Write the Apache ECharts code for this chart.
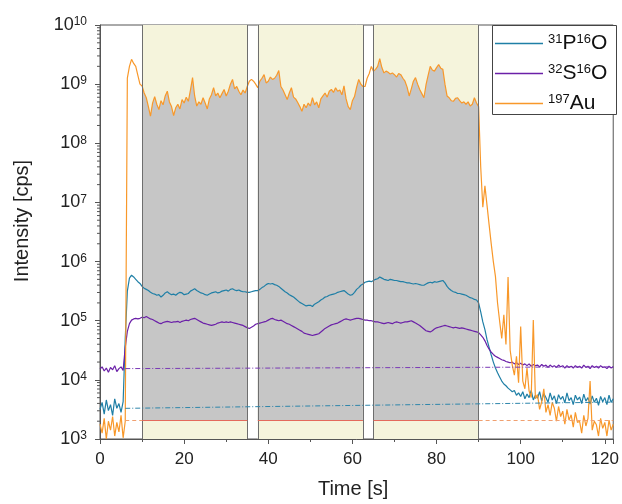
<!DOCTYPE html>
<html><head><meta charset="utf-8">
<script src="https://cdn.jsdelivr.net/npm/echarts@6/dist/echarts.min.js"></script>
<style>html,body{margin:0;padding:0;background:#fff}#c{width:622px;height:504px}</style>
</head><body><div id="c"></div>
<script>
// sample times [s]
const time = [
0,0.5,1,1.5,2,2.5,3,3.5,4,4.5,
5,5.5,6,6.5,7,7.5,8,8.5,9,9.5,
10,10.5,11,11.5,12,12.5,13,13.5,14,14.5,
15,15.5,16,16.5,17,17.5,18,18.5,19,19.5,
20,20.5,21,21.5,22,22.5,23,23.5,24,24.5,
25,25.5,26,26.5,27,27.5,28,28.5,29,29.5,
30,30.5,31,31.5,32,32.5,33,33.5,34,34.5,
35,35.5,36,36.5,37,37.5,38,38.5,39,39.5,
40,40.5,41,41.5,42,42.5,43,43.5,44,44.5,
45,45.5,46,46.5,47,47.5,48,48.5,49,49.5,
50,50.5,51,51.5,52,52.5,53,53.5,54,54.5,
55,55.5,56,56.5,57,57.5,58,58.5,59,59.5,
60,60.5,61,61.5,62,62.5,63,63.5,64,64.5,
65,65.5,66,66.5,67,67.5,68,68.5,69,69.5,
70,70.5,71,71.5,72,72.5,73,73.5,74,74.5,
75,75.5,76,76.5,77,77.5,78,78.5,79,79.5,
80,80.5,81,81.5,82,82.5,83,83.5,84,84.5,
85,85.5,86,86.5,87,87.5,88,88.5,89,89.5,
90,90.5,91,91.5,92,92.5,93,93.5,94,94.5,
95,95.5,96,96.5,97,97.5,98,98.5,99,99.5,
100,100.5,101,101.5,102,102.5,103,103.5,104,104.5,
105,105.5,106,106.5,107,107.5,108,108.5,109,109.5,
110,110.5,111,111.5,112,112.5,113,113.5,114,114.5,
115,115.5,116,116.5,117,117.5,118,118.5,119,119.5,
120,120.5,121,121.5,122];

// intensities as log10(cps)
const pLog = [
3.50,3.62,3.42,3.66,3.48,3.58,3.40,3.68,3.52,3.60,
3.45,3.63,4.70,5.50,5.72,5.77,5.74,5.70,5.66,5.63,
5.58,5.55,5.53,5.51,5.48,5.46,5.45,5.43,5.44,5.40,
5.43,5.47,5.49,5.46,5.44,5.45,5.43,5.46,5.48,5.47,
5.44,5.45,5.46,5.50,5.52,5.54,5.51,5.49,5.47,5.46,
5.44,5.43,5.45,5.47,5.48,5.49,5.47,5.48,5.50,5.51,
5.52,5.50,5.53,5.54,5.52,5.51,5.52,5.50,5.49,5.49,
5.48,5.48,5.49,5.50,5.51,5.51,5.53,5.56,5.58,5.61,
5.63,5.62,5.63,5.61,5.60,5.58,5.55,5.52,5.49,5.47,
5.44,5.42,5.40,5.37,5.34,5.31,5.29,5.27,5.25,5.26,
5.26,5.24,5.28,5.30,5.32,5.35,5.37,5.40,5.41,5.43,
5.44,5.45,5.46,5.48,5.49,5.50,5.51,5.48,5.45,5.43,
5.44,5.48,5.53,5.56,5.60,5.62,5.65,5.66,5.67,5.66,
5.68,5.70,5.71,5.74,5.72,5.70,5.69,5.68,5.70,5.69,
5.68,5.68,5.67,5.66,5.66,5.65,5.64,5.64,5.63,5.62,
5.63,5.62,5.61,5.60,5.60,5.62,5.64,5.65,5.64,5.66,
5.65,5.66,5.67,5.68,5.64,5.58,5.54,5.51,5.49,5.48,
5.46,5.46,5.45,5.44,5.43,5.41,5.39,5.38,5.36,5.35,
5.30,5.15,4.98,4.85,4.68,4.55,4.42,4.30,4.20,4.12,
4.05,3.98,3.93,3.90,3.86,3.83,3.80,3.82,3.74,3.78,
3.72,3.80,3.68,3.76,3.70,3.82,3.66,3.74,3.69,3.80,
3.64,3.77,3.70,3.62,3.78,3.66,3.73,3.60,3.75,3.67,
3.72,3.61,3.78,3.65,3.70,3.58,3.74,3.66,3.71,3.60,
3.76,3.64,3.70,3.59,3.73,3.62,3.69,3.57,3.72,3.63,
3.70,3.58,3.74,3.62,3.68];

const sLog = [
4.18,4.22,4.15,4.20,4.13,4.21,4.17,4.24,4.14,4.19,
4.22,4.16,4.55,4.82,4.95,5.01,5.03,5.04,5.03,5.04,
5.06,5.05,5.07,5.05,5.03,5.02,5.00,4.98,4.96,4.95,
4.97,4.98,4.99,4.98,4.97,4.98,4.98,4.99,4.97,4.99,
5.00,5.01,5.00,5.02,5.03,5.04,5.02,5.00,4.98,4.96,
4.95,4.94,4.93,4.92,4.93,4.94,4.96,4.97,4.98,4.97,
4.98,4.97,4.98,4.97,4.96,4.95,4.94,4.93,4.92,4.90,
4.88,4.87,4.89,4.91,4.94,4.95,4.96,4.97,4.98,4.99,
5.01,5.03,5.04,5.02,5.01,5.00,5.01,4.99,4.97,4.95,
4.94,4.92,4.90,4.88,4.86,4.84,4.82,4.79,4.78,4.77,
4.76,4.75,4.76,4.77,4.78,4.81,4.84,4.87,4.89,4.91,
4.93,4.94,4.95,4.96,4.98,5.00,5.02,5.03,5.02,5.01,
5.02,5.03,5.04,5.04,5.03,5.02,5.01,5.01,5.00,5.00,
4.99,4.98,4.98,4.97,4.96,4.95,4.96,4.97,4.96,4.95,
4.97,4.98,4.97,4.96,4.97,4.98,4.98,4.99,5.00,4.98,
4.96,4.94,4.92,4.89,4.86,4.83,4.82,4.81,4.83,4.86,
4.88,4.89,4.90,4.91,4.92,4.91,4.90,4.89,4.88,4.89,
4.88,4.87,4.88,4.87,4.86,4.85,4.84,4.83,4.82,4.81,
4.80,4.76,4.72,4.66,4.58,4.52,4.47,4.43,4.40,4.38,
4.36,4.34,4.33,4.31,4.30,4.29,4.30,4.27,4.29,4.26,
4.28,4.25,4.27,4.24,4.27,4.23,4.26,4.24,4.25,4.22,
4.26,4.23,4.25,4.21,4.25,4.22,4.24,4.21,4.25,4.22,
4.24,4.20,4.24,4.21,4.23,4.20,4.24,4.21,4.23,4.20,
4.25,4.21,4.23,4.19,4.24,4.21,4.23,4.20,4.24,4.21,
4.22,4.19,4.23,4.20,4.22];

const auLog = [
3.25,3.10,3.35,3.00,3.30,3.15,3.38,3.05,3.28,3.12,
3.40,3.02,3.30,9.10,9.30,9.42,9.35,9.30,9.15,9.00,
8.97,8.85,8.77,8.62,8.46,8.68,8.79,8.66,8.57,8.72,
8.65,8.80,8.88,8.70,8.62,8.47,8.60,8.66,8.58,8.74,
8.68,8.78,8.71,8.90,9.11,8.80,8.63,8.70,8.66,8.77,
8.68,8.58,8.75,8.82,8.94,8.80,8.85,8.77,8.84,8.91,
8.80,8.88,9.00,9.08,8.92,8.96,8.88,8.82,8.90,8.85,
8.96,9.05,9.08,9.05,9.00,8.94,9.05,9.10,9.16,9.02,
9.05,9.12,9.08,9.10,9.15,9.23,8.96,8.90,8.82,8.74,
8.85,8.94,8.78,8.75,8.69,8.62,8.54,8.66,8.60,8.68,
8.63,8.77,8.65,8.70,8.60,8.75,8.80,8.85,8.78,8.88,
8.91,8.86,8.94,8.88,8.90,8.82,8.97,8.75,8.62,8.57,
8.72,8.79,8.95,9.08,9.00,8.96,8.96,9.10,9.18,9.30,
9.22,9.25,9.30,9.43,9.28,9.19,9.22,9.20,9.17,9.19,
9.16,9.12,9.18,9.16,9.10,9.05,8.95,8.80,8.92,9.05,
9.11,9.00,8.91,8.84,8.77,8.99,9.15,9.30,9.24,9.22,
9.28,9.33,9.27,9.25,9.00,8.80,8.77,8.72,8.71,8.76,
8.77,8.72,8.68,8.70,8.66,8.70,8.63,8.66,8.77,8.68,
8.62,7.60,6.92,7.28,6.95,6.62,6.30,6.00,5.75,5.30,
4.99,4.70,5.10,4.60,5.74,4.50,4.25,4.08,4.40,3.95,
4.90,3.98,3.85,4.20,3.81,3.70,5.01,3.68,3.75,3.50,
3.63,3.85,3.45,3.58,3.40,3.62,3.52,3.30,3.55,3.38,
3.47,3.25,3.50,3.32,3.41,3.20,3.45,3.28,3.30,3.10,
3.40,3.22,3.35,3.98,3.15,3.30,3.24,3.05,3.35,3.18,
3.28,3.05,3.32,3.15,3.25];

// shaded measurement windows [s] and the level of their lower edge [cps]
const regions = [[10, 35], [37.5, 62.5], [65, 90]];
const regionLevel = 2100;
// background (blank) lines [time, cps]
const pBaseline = [[6, 3300], [122, 4200]];
const sBaseline = [[6, 15500], [122, 16600]];
const auBaselines = [[[6, 2100], [10, 2100]], [[90, 2100], [122, 2100]]];
const yDecades = [3, 4, 5, 6, 7, 8, 9, 10];
const seriesNames = ['PO', 'SO', 'Au'];
const legendLabels = {
  PO: '{s|31}{m|P}{s|16}{m|O}',
  SO: '{s|32}{m|S}{s|16}{m|O}',
  Au: '{s|197}{m|Au}'
};

const colors = { PO: '#1f7fa6', SO: '#6b20a8', Au: '#f8982a' };
const FONT = 'Liberation Sans, Arial, sans-serif';

const toPairs = arr => time.map((t, i) => [t, Math.pow(10, arr[i])]);
const auPairs = toPairs(auLog);

const series = [];
// yellow windows
series.push({
  type: 'line', name: 'windows', data: [], z: 1, silent: true,
  markArea: { silent: true, itemStyle: { color: '#f5f4dc' },
    data: regions.map(r => [{ xAxis: r[0] }, { xAxis: r[1] }]) }
});
// grey fill between the lower edge and the Au signal in each window
regions.forEach((r, k) => {
  series.push({
    type: 'line', name: 'fill' + k, z: 2, silent: true, symbol: 'none',
    data: auPairs.filter(d => d[0] >= r[0] && d[0] <= r[1]),
    lineStyle: { width: 0, opacity: 0 },
    areaStyle: { color: '#c6c6c6', opacity: 1, origin: regionLevel }
  });
});
// edges, lower red lines and baselines
const edgeLines = [];
regions.forEach(r => { edgeLines.push({ xAxis: r[0] }); edgeLines.push({ xAxis: r[1] }); });
const segs = [];
regions.forEach(r => segs.push([{ coord: [r[0], regionLevel], lineStyle: { color: '#e36a5c', width: 1, type: 'solid' } }, { coord: [r[1], regionLevel] }]));
segs.push([{ coord: pBaseline[0], lineStyle: { color: '#2f86ab', width: 1, type: [5, 2, 1, 2] } }, { coord: pBaseline[1] }]);
segs.push([{ coord: sBaseline[0], lineStyle: { color: '#7a3ab5', width: 1, type: [5, 2, 1, 2] } }, { coord: sBaseline[1] }]);
auBaselines.forEach(b => segs.push([{ coord: b[0], lineStyle: { color: '#f0a070', width: 1, type: [4, 3] } }, { coord: b[1] }]));
series.push({
  type: 'line', name: 'lines', data: [], z: 3, silent: true,
  markLine: { silent: true, symbol: ['none', 'none'], animation: false,
    label: { show: false }, emphasis: { disabled: true },
    lineStyle: { color: '#6e6e6e', width: 1, type: 'solid' },
    data: edgeLines.concat(segs) }
});
// signals
[['PO', pLog], ['SO', sLog], ['Au', auLog]].forEach(([n, arr]) => {
  series.push({
    type: 'line', name: n, data: toPairs(arr), symbol: 'none', z: 4,
    color: colors[n], lineStyle: { width: 1.2, color: colors[n] }, animation: false
  });
});
// log minor ticks on the y axis
series.push({
  type: 'custom', name: 'yMinor', silent: true, z: 10, clip: false,
  data: [[0, 1000]],
  renderItem: (params, api) => {
    const children = [];
    yDecades.slice(0, -1).forEach(d => {
      for (let k = 2; k <= 9; k++) {
        const p = api.coord([0, k * Math.pow(10, d)]);
        children.push({ type: 'line', shape: { x1: p[0] - 3, y1: p[1], x2: p[0], y2: p[1] },
          style: { stroke: '#555', lineWidth: 1 } });
      }
    });
    return { type: 'group', children };
  }
});

const chart = echarts.init(document.getElementById('c'), null, { renderer: 'canvas' });
chart.setOption({
  animation: false,
  backgroundColor: '#fff',
  textStyle: { fontFamily: FONT },
  grid: { left: 100, right: 6, top: 25, bottom: 63, show: true, borderColor: '#555', borderWidth: 1, backgroundColor: 'transparent' },
  xAxis: {
    type: 'value', min: 0, max: 122, interval: 20,
    name: 'Time [s]', nameLocation: 'middle', nameGap: 40,
    nameTextStyle: { fontSize: 20, color: '#222', fontFamily: FONT, padding: [0, 7, 0, 0] },
    axisLine: { lineStyle: { color: '#555' } },
    axisTick: { inside: false, length: 5, lineStyle: { color: '#555' } },
    minorTick: { show: true, splitNumber: 2, length: 3, lineStyle: { color: '#555' } },
    splitLine: { show: false }, minorSplitLine: { show: false },
    axisLabel: { fontSize: 17, color: '#222', margin: 12, fontFamily: FONT,
      formatter: v => (v > 120 ? '' : String(v)) }
  },
  yAxis: {
    type: 'log', logBase: 10, min: 1e3, max: 1e10, splitNumber: 7,
    name: 'Intensity [cps]', nameLocation: 'middle', nameGap: 68,
    nameTextStyle: { fontSize: 20, color: '#222', fontFamily: FONT, padding: [0, 0, 0, 22] },
    axisLine: { show: true, lineStyle: { color: '#555' } },
    axisTick: { inside: false, length: 5, lineStyle: { color: '#555' } },
    minorTick: { show: false },
    splitLine: { show: false },
    axisLabel: {
      margin: 13, color: '#222',
      formatter: v => '{m|10}{s|' + Math.round(Math.log10(v)) + '}',
      rich: {
        m: { fontSize: 18, lineHeight: 18, verticalAlign: 'bottom', color: '#222', fontFamily: FONT },
        s: { fontSize: 12, lineHeight: 8, verticalAlign: 'top', color: '#222', fontFamily: FONT }
      }
    }
  },
  legend: {
    orient: 'vertical', left: 495, top: 30, padding: 0, itemGap: 6,
    itemWidth: 48, itemHeight: 1.5, z: 20, icon: 'rect',
    data: seriesNames,
    formatter: n => legendLabels[n],
    textStyle: {
      rich: {
        m: { fontSize: 21, lineHeight: 21, padding: [3, 0, 0, 0], verticalAlign: 'bottom', color: '#111', fontFamily: FONT },
        s: { fontSize: 13, lineHeight: 12, verticalAlign: 'top', color: '#111', fontFamily: FONT }
      }
    }
  },
  graphic: { elements: [{ type: 'rect', z: 15, silent: true,
    shape: { x: 492.5, y: 25.5, width: 124, height: 89 },
    style: { fill: '#fff', stroke: '#444', lineWidth: 1 } }] },
  series
});
</script></body></html>
